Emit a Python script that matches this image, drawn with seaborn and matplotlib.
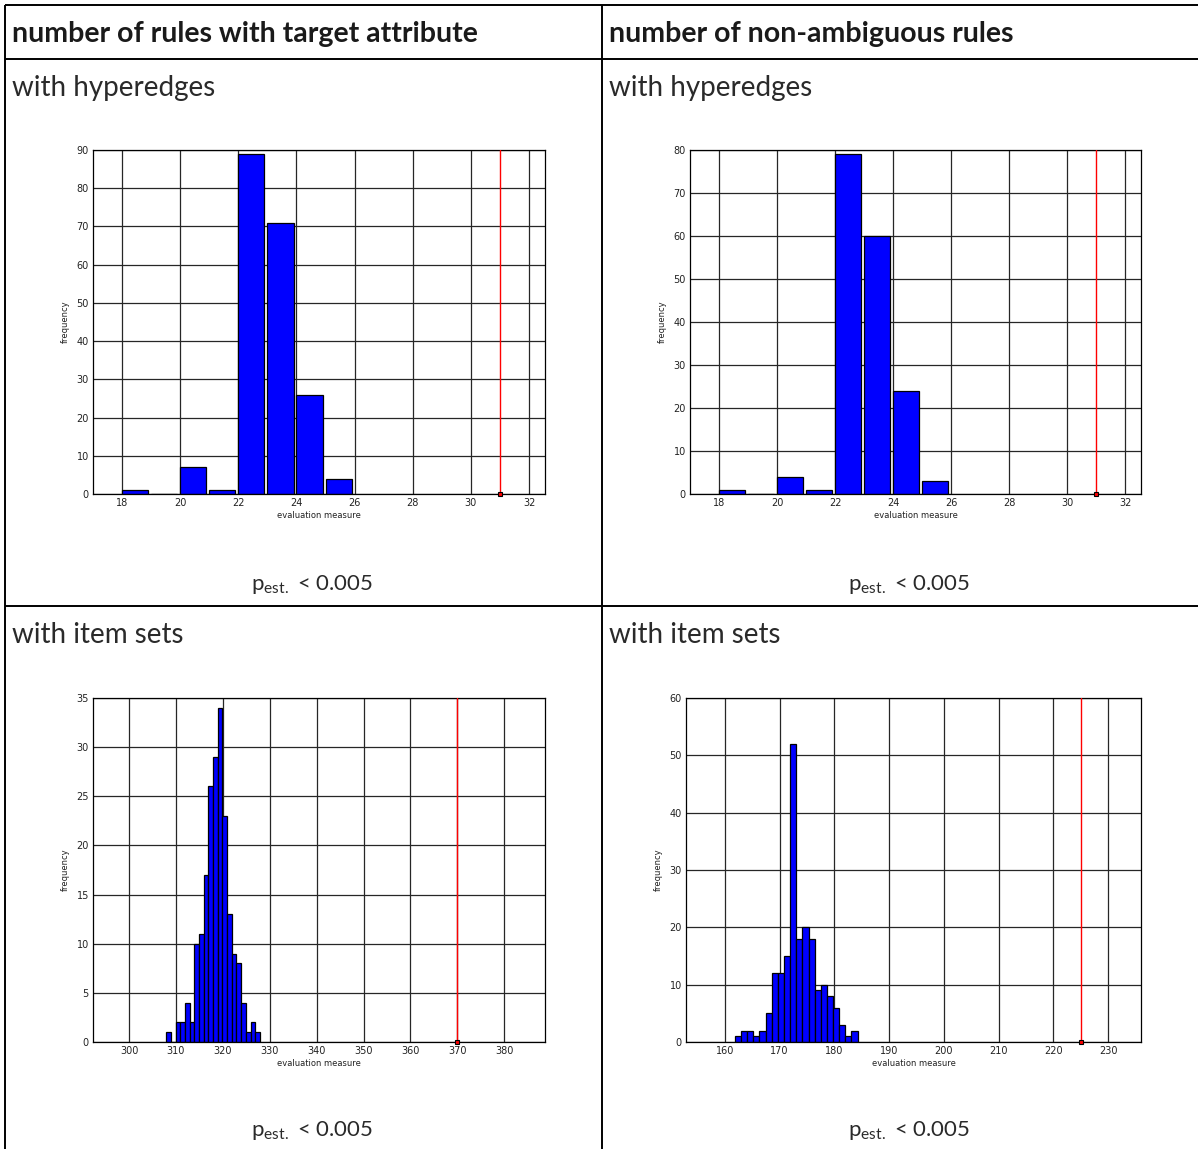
import numpy as np
import pandas as pd
import matplotlib
matplotlib.use("Agg")
import matplotlib.pyplot as plt
import seaborn as sns

# column headers and row labels of the table
col_titles = ["number of rules with target attribute", "number of non-ambiguous rules"]
row_titles = ["with hyperedges", "with item sets"]
p_text = r"$\mathregular{p_{est.}}$ < 0.005"

# histogram counts, one list per panel
counts_tl = [1, 0, 7, 1, 89, 71, 26, 4]
counts_tr = [1, 0, 4, 1, 79, 60, 24, 3]
counts_bl = [1, 0, 2, 2, 4, 2, 10, 11, 17, 26, 29, 34, 23, 13, 9, 8, 4, 1, 2, 1]
counts_br = [1, 2, 2, 1, 2, 5, 12, 12, 15, 52, 18, 20, 18, 9, 10, 8, 6, 3, 1, 2]

# range covered by the bins of each panel
range_tl = (17.95, 25.95)
range_tr = (17.95, 25.95)
range_bl = (307.9, 327.9)
range_br = (161.84, 184.23)

# observed value (red line) per panel
observed = [31, 31, 370, 225]

W, H = 1198, 1149
fig = plt.figure(figsize=(W / 100, H / 100), dpi=100)
sns.set_style("white")
plt.rcParams["font.family"] = ["DejaVu Sans"]
plt.rcParams["mathtext.fontset"] = "custom"
plt.rcParams["mathtext.rm"] = "Lato"

# background axes for the table lines and texts (pixel coordinates)
bg = fig.add_axes([0, 0, 1, 1])
bg.set_xlim(0, W)
bg.set_ylim(H, 0)
bg.axis("off")
lw_tab = 1.4
for y in [5, 59, 606]:
    bg.plot([5, W], [y, y], color="black", lw=lw_tab, solid_capstyle="butt")
for x in [5, 602]:
    bg.plot([x, x], [5, H], color="black", lw=lw_tab, solid_capstyle="butt")

col_x = [12, 609]
col_c = [303, 900]
for i, t in enumerate(col_titles):
    bg.text(col_x[i], 34, t, fontsize=20.5, family="Lato", weight="bold",
            va="center", ha="left", color="#1a1a1a")
for r, t in enumerate(row_titles):
    yy = [88, 635][r]
    yp = [584, 1131][r]
    for i in range(2):
        bg.text(col_x[i], yy, t, fontsize=20, family="Lato", weight="normal",
                va="center", ha="left", color="#2a2a2a")
        bg.text(col_c[i] + 9, yp, p_text, fontsize=16, family="Lato", weight="normal",
                va="center", ha="center", color="#2a2a2a")


def rect(l, t, r, b):
    return [l / W, 1 - b / H, (r - l) / W, (b - t) / H]


panels = [
    dict(rect=rect(93, 150, 545, 494), counts=counts_tl, rng=range_tl, shrink=0.9,
         xlim=(17, 32.55), xticks=np.arange(18, 33, 2), ylim=(0, 90), yticks=np.arange(0, 91, 10)),
    dict(rect=rect(690, 150, 1141, 494), counts=counts_tr, rng=range_tr, shrink=0.9,
         xlim=(17, 32.55), xticks=np.arange(18, 33, 2), ylim=(0, 80), yticks=np.arange(0, 81, 10)),
    dict(rect=rect(93, 698, 545, 1042), counts=counts_bl, rng=range_bl, shrink=1.0,
         xlim=(292.3, 388.7), xticks=np.arange(300, 381, 10), ylim=(0, 35), yticks=np.arange(0, 36, 5)),
    dict(rect=rect(686, 698, 1141, 1042), counts=counts_br, rng=range_br, shrink=1.0,
         xlim=(152.9, 236), xticks=np.arange(160, 231, 10), ylim=(0, 60), yticks=np.arange(0, 61, 10)),
]

for k, p in enumerate(panels):
    ax = fig.add_axes(p["rect"])
    n = len(p["counts"])
    edges = np.linspace(p["rng"][0], p["rng"][1], n + 1)
    df = pd.DataFrame({"x": (edges[:-1] + edges[1:]) / 2, "w": p["counts"]})
    sns.histplot(data=df, x="x", weights="w", bins=list(edges), shrink=p["shrink"],
                 color=(0, 0, 1), edgecolor="black", linewidth=0.9, alpha=1, ax=ax)
    ax.axvline(observed[k], color="red", lw=1, zorder=3)
    ax.plot([observed[k]], [0], marker="s", ms=3, mfc="red", mec="black", mew=0.8,
            clip_on=False, zorder=4)
    ax.set_xlim(*p["xlim"])
    ax.set_ylim(*p["ylim"])
    ax.set_xticks(p["xticks"])
    ax.set_yticks(p["yticks"])
    ax.grid(True, color="#262626", lw=0.9)
    ax.set_axisbelow(True)
    ax.tick_params(direction="in", length=4, labelsize=7, pad=3, colors="#222222",
                   labelcolor="#222222")
    for s in ax.spines.values():
        s.set_color("black")
        s.set_linewidth(0.9)
    ax.set_xlabel("evaluation measure", fontsize=6, labelpad=2, color="#222222")
    ax.set_ylabel("frequency", fontsize=6, labelpad=5, color="#222222")

fig.savefig("out.png", dpi=100)
